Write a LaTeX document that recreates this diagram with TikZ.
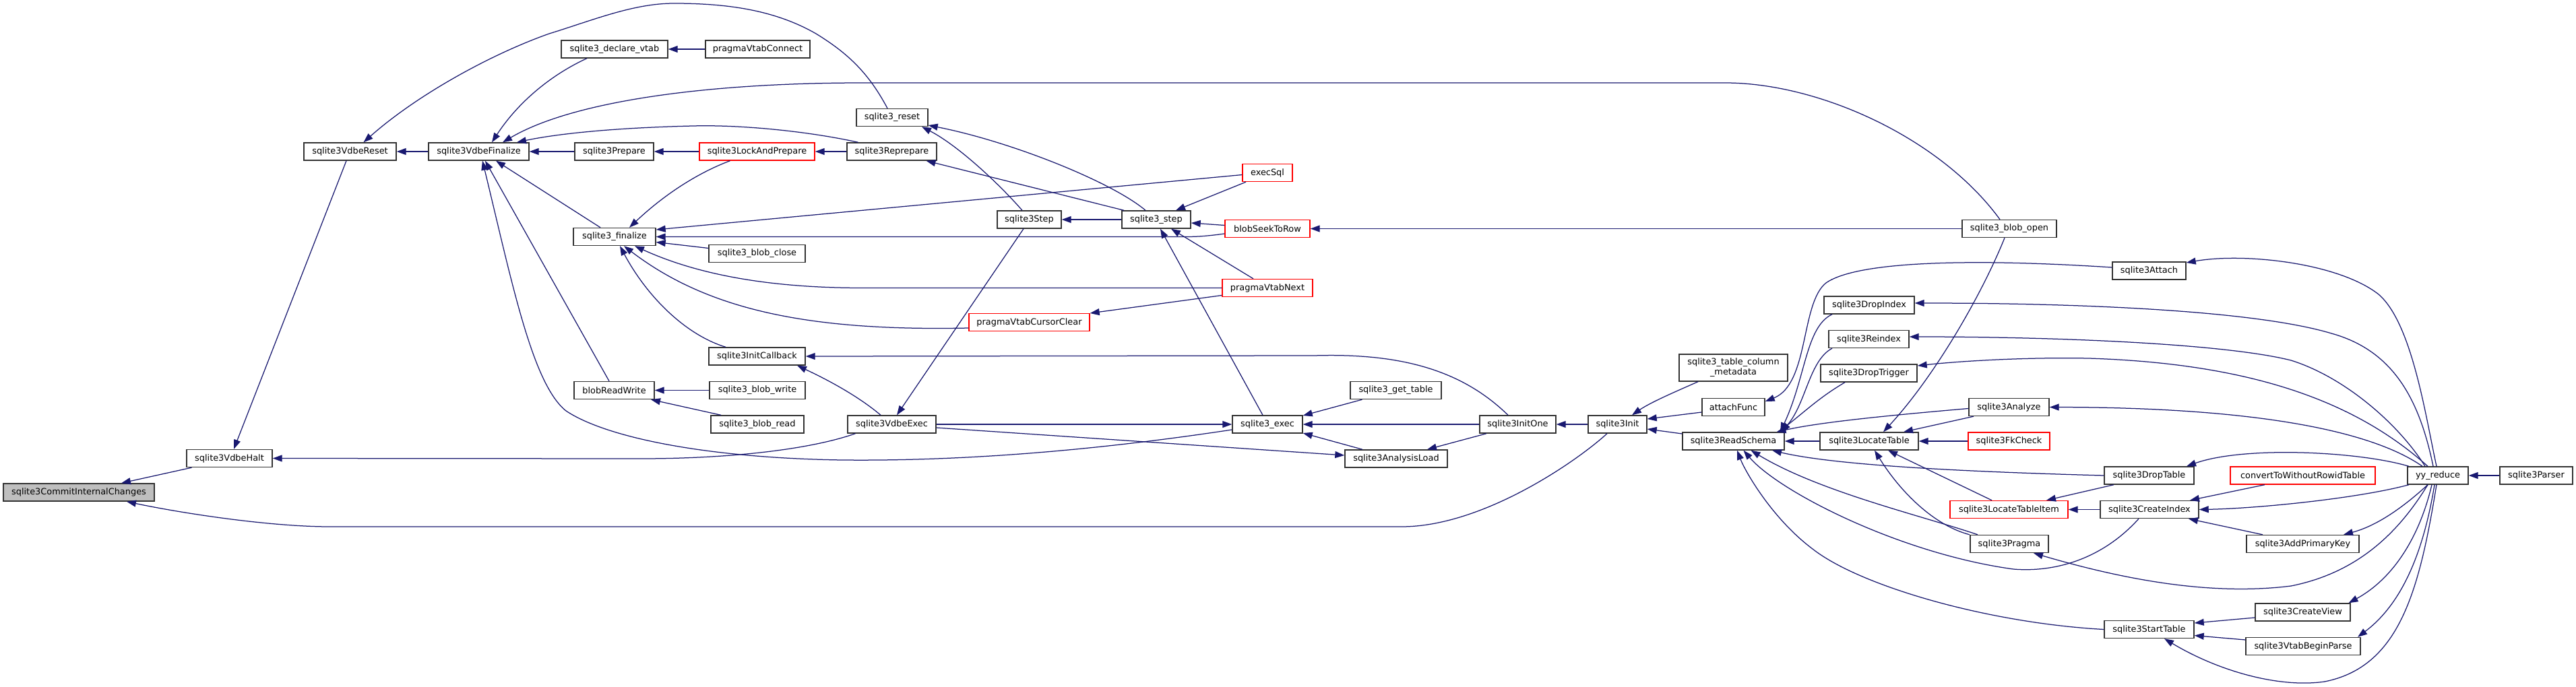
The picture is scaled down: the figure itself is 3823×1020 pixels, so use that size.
\documentclass[tikz,border=0pt]{standalone}
\usepackage{fontspec}
\newfontfamily\djfont{DejaVu Sans}
\usetikzlibrary{arrows.meta}
\definecolor{edgec}{HTML}{191970}
\definecolor{boxc}{HTML}{333333}
\definecolor{redc}{HTML}{FF0000}
\definecolor{rootc}{HTML}{BFBFBF}
\begin{document}
\begin{tikzpicture}[x=1pt,y=-1pt,
 fn/.style={draw=boxc, line width=1.4pt, fill=white, minimum height=26pt, inner sep=0pt, font=\djfont\fontsize{12.9}{15}\selectfont},
 rd/.style={fn, draw=redc},
 e/.style={draw=edgec, line width=1.25pt, -{Triangle[length=14pt,width=10pt]}}
]
\fill[white] (0,0) rectangle (3823,1020);
\useasboundingbox (0,0) rectangle (3823,1020);
% nodes
\node[fn, fill=rootc, minimum width=224pt] (cic) at (117,731) {sqlite3CommitInternalChanges};
\node[fn, minimum width=127pt] (halt) at (340.5,680.5) {sqlite3VdbeHalt};
\node[fn, minimum width=137pt] (vreset) at (519.5,225) {sqlite3VdbeReset};
\node[fn, minimum width=149pt] (vfin) at (710.5,225) {sqlite3VdbeFinalize};
\node[fn, minimum width=158pt] (declare) at (912,73) {sqlite3\_declare\_vtab};
\node[fn, minimum width=155pt] (pvconn) at (1124.5,73) {pragmaVtabConnect};
\node[fn, minimum width=117pt] (prep) at (911.5,225) {sqlite3Prepare};
\node[rd, minimum width=171pt] (lockprep) at (1123.5,225) {sqlite3LockAndPrepare};
\node[fn, minimum width=122pt] (fin) at (912,351.5) {sqlite3\_finalize};
\node[fn, minimum width=143pt] (bclose) at (1123.5,376.5) {sqlite3\_blob\_close};
\node[fn, minimum width=143pt] (initcb) at (1123.5,529) {sqlite3InitCallback};
\node[fn, minimum width=119pt] (brw) at (911.5,579.5) {blobReadWrite};
\node[fn, minimum width=142pt] (bwrite) at (1124,579.5) {sqlite3\_blob\_write};
\node[fn, minimum width=138pt] (bread) at (1124,630) {sqlite3\_blob\_read};
\node[fn, minimum width=106pt] (reset) at (1324,174.5) {sqlite3\_reset};
\node[fn, minimum width=133pt] (reprep) at (1323.5,225) {sqlite3Reprepare};
\node[rd, minimum width=74pt] (execsql) at (1881,256.5) {execSql};
\node[fn, minimum width=95pt] (vstep) at (1527.5,326) {sqlite3Step};
\node[fn, minimum width=102pt] (ustep) at (1716,326) {sqlite3\_step};
\node[rd, minimum width=126pt] (seek) at (1881,339.5) {blobSeekToRow};
\node[rd, minimum width=134pt] (pvnext) at (1881,427.5) {pragmaVtabNext};
\node[rd, minimum width=179pt] (pvclear) at (1527.5,478.5) {pragmaVtabCursorClear};
\node[fn, minimum width=131pt] (vexec) at (1323.5,630) {sqlite3VdbeExec};
\node[fn, minimum width=104pt] (exec) at (1881,630) {sqlite3\_exec};
\node[fn, minimum width=135pt] (gettable) at (2071.5,579.5) {sqlite3\_get\_table};
\node[fn, minimum width=152pt] (aload) at (2072,681) {sqlite3AnalysisLoad};
\node[fn, minimum width=113pt] (initone) at (2252.5,630) {sqlite3InitOne};
\node[fn, minimum width=87pt] (init) at (2400.5,630) {sqlite3Init};
\node[fn, minimum width=161pt, minimum height=40pt, align=center] (meta) at (2572.5,546) {sqlite3\_table\_column\\\_metadata};
\node[fn, minimum width=93pt] (attfn) at (2572.5,604.5) {attachFunc};
\node[fn, minimum width=151pt] (rschema) at (2572.5,655) {sqlite3ReadSchema};
\node[fn, minimum width=140pt] (bopen) at (2982,339.5) {sqlite3\_blob\_open};
\node[fn, minimum width=109pt] (attach) at (3189.5,402) {sqlite3Attach};
\node[fn, minimum width=134pt] (dropidx) at (2774,453) {sqlite3DropIndex};
\node[fn, minimum width=119pt] (reidx) at (2773.5,503.5) {sqlite3Reindex};
\node[fn, minimum width=143pt] (droptrig) at (2773.5,554) {sqlite3DropTrigger};
\node[fn, minimum width=119pt] (analyze) at (2981.5,604.5) {sqlite3Analyze};
\node[fn, minimum width=146pt] (loctab) at (2774,655) {sqlite3LocateTable};
\node[rd, minimum width=121pt] (fkcheck) at (2981.5,655) {sqlite3FkCheck};
\node[fn, minimum width=133pt] (droptab) at (3189.5,706) {sqlite3DropTable};
\node[rd, minimum width=175pt] (locitem) at (2981.5,756.5) {sqlite3LocateTableItem};
\node[fn, minimum width=146pt] (crindex) at (3190,756.5) {sqlite3CreateIndex};
\node[fn, minimum width=116pt] (pragma) at (2982,807.5) {sqlite3Pragma};
\node[fn, minimum width=133pt] (starttab) at (3189.5,934.5) {sqlite3StartTable};
\node[rd, minimum width=215pt] (convert) at (3417.5,706) {convertToWithoutRowidTable};
\node[fn, minimum width=90pt] (yy) at (3618,706) {yy\_reduce};
\node[fn, minimum width=108pt] (parser) at (3764,706) {sqlite3Parser};
\node[fn, minimum width=167pt] (addpk) at (3417.5,807.5) {sqlite3AddPrimaryKey};
\node[fn, minimum width=141pt] (crview) at (3417.5,909) {sqlite3CreateView};
\node[fn, minimum width=170pt] (vtabbp) at (3418,959.5) {sqlite3VtabBeginParse};
% edges
\draw[e] ([xshift=-56pt]halt.south) -- ([xshift=63pt]cic.north);
\draw[e] ([xshift=-15.5pt]init.south) .. controls (2340,685) and (2200,782) .. (2080,782) -- (490,782) .. controls (400,782) and (270,762) .. ([xshift=71pt]cic.south);
\draw[e] ([xshift=-54pt]vexec.south) .. controls (1200,668) and (1080,681) .. (950,681) -- (halt.east);
\draw[e] ([xshift=-5.5pt]vreset.south) -- ([xshift=6.5pt]halt.north);
\draw[e] (vfin.west) -- (vreset.east);
\draw[e] ([xshift=-7pt]reset.north) .. controls (1290,110) and (1260,80) .. (1211,50) .. controls (1150,15) and (1080,5) .. (1000,5) .. controls (940,5) and (880,30) .. (815,50) .. controls (730,80) and (620,140) .. ([xshift=20pt]vreset.north);
\draw[e] ([xshift=-41pt]declare.south) .. controls (820,110) and (770,150) .. ([xshift=19.5pt]vfin.north);
\draw[e] ([xshift=-14pt]bopen.north) .. controls (2880,205) and (2700,123) .. (2560,123) -- (1280,123) .. controls (1050,123) and (850,150) .. ([xshift=35.5pt]vfin.north);
\draw[e] ([xshift=-50pt]reprep.north) .. controls (1200,195) and (1100,185) .. (1028,187) .. controls (900,190) and (820,200) .. ([xshift=56.5pt]vfin.north);
\draw[e] (prep.west) -- (vfin.east);
\draw[e] (lockprep.west) -- (prep.east);
\draw[e] (reprep.west) -- (lockprep.east);
\draw[e] ([xshift=-21pt]fin.north) -- ([xshift=25.5pt]vfin.south);
\draw[e] ([xshift=-7.5pt]brw.north) -- ([xshift=9.5pt]vfin.south);
\draw[e] ([yshift=-8pt]exec.west) .. controls (1650,665) and (1450,685) .. (1250,683) .. controls (1050,680) and (900,650) .. (840,610) .. controls (790,570) and (760,420) .. ([xshift=5.5pt]vfin.south);
\draw[e] (vexec.east) -- (exec.west);
\draw[e] ([yshift=-5pt]vexec.east) -- ([yshift=5pt]aload.west);
\draw[e] ([xshift=-40pt]lockprep.south) .. controls (1040,255) and (990,285) .. ([xshift=22pt]fin.north);
\draw[e] ([yshift=-3pt]execsql.west) -- ([yshift=10.5pt]fin.east);
\draw[e] ([yshift=-7.5pt]seek.west) .. controls (1795,350) and (1780,351.5) .. (1760,351.5) -- (fin.east);
\draw[e] ([yshift=8pt]bclose.west) -- ([yshift=-8pt]fin.east);
\draw[e] (pvnext.west) -- (1280,427.5) .. controls (1150,427.5) and (1040,410) .. ([xshift=30pt]fin.south);
\draw[e] ([yshift=-8.5pt]pvclear.west) .. controls (1200,492) and (1050,460) .. ([xshift=14pt]fin.south);
\draw[e] ([xshift=-46.5pt]initcb.north) .. controls (1017,497) and (960,440) .. ([xshift=8pt]fin.south);
\draw[e] ([xshift=-14.5pt]initone.north) .. controls (2170,550) and (2080,524) .. (1950,528) -- (initcb.east);
\draw[e] ([xshift=-16.5pt]vexec.north) .. controls (1270,585) and (1220,560) .. ([xshift=59.5pt]initcb.south);
\draw[e] (bwrite.west) -- (brw.east);
\draw[e] ([xshift=-54pt]bread.north) -- ([xshift=54.5pt]brw.south);
\draw[e] ([xshift=-10.5pt]vstep.north) .. controls (1480,270) and (1420,215) .. ([xshift=44pt]reset.south);
\draw[e] ([xshift=-16pt]ustep.north) .. controls (1650,270) and (1500,210) .. ([yshift=-11.5pt]reset.east);
\draw[e] ([xshift=-48pt]ustep.north) -- ([xshift=51pt]reprep.south);
\draw[e] (ustep.west) -- (vstep.east);
\draw[e] ([xshift=-32pt]execsql.south) -- ([xshift=29pt]ustep.north);
\draw[e] ([yshift=5pt]seek.west) -- ([yshift=-5pt]ustep.east);
\draw[e] ([xshift=-21pt]pvnext.north) -- ([xshift=22pt]ustep.south);
\draw[e] ([xshift=-7pt]exec.north) -- ([xshift=6pt]ustep.south);
\draw[e] ([xshift=-8.5pt]vstep.south) -- ([xshift=7.5pt]vexec.north);
\draw[e] ([yshift=-11pt]pvnext.west) -- ([yshift=13.5pt]pvclear.east);
\draw[e] (bopen.west) -- (seek.east);
\draw[e] ([xshift=-50pt]gettable.south) -- ([yshift=13pt]exec.east);
\draw[e] (initone.west) -- (exec.east);
\draw[e] ([xshift=-50pt]aload.north) -- ([yshift=-13pt]exec.east);
\draw[e] ([xshift=-46.5pt]initone.south) -- ([xshift=46pt]aload.north);
\draw[e] (init.west) -- (initone.east);
\draw[e] ([xshift=-52.5pt]meta.south) .. controls (2490,580) and (2450,597) .. ([xshift=21.5pt]init.north);
\draw[e] ([yshift=-7.5pt]attfn.west) -- ([yshift=8pt]init.east);
\draw[e] ([yshift=11pt]rschema.west) -- ([yshift=-7pt]init.east);
\draw[e] ([yshift=5pt]attach.west) .. controls (2950,385) and (2760,385) .. (2710,420) .. controls (2672,450) and (2685,570) .. ([yshift=8.5pt]attfn.east);
\draw[e] ([xshift=-55pt]dropidx.south) .. controls (2680,485) and (2680,560) .. ([xshift=69.5pt]rschema.north);
\draw[e] ([xshift=-54.5pt]reidx.south) .. controls (2685,535) and (2680,600) .. ([xshift=71pt]rschema.north);
\draw[e] ([xshift=-35.5pt]droptrig.south) .. controls (2700,590) and (2680,610) .. ([xshift=67pt]rschema.north);
\draw[e] ([yshift=-2pt]analyze.west) .. controls (2800,617) and (2700,627) .. ([xshift=64pt]rschema.north);
\draw[e] (loctab.west) -- (rschema.east);
\draw[e] (droptab.west) .. controls (2900,700) and (2720,690) .. ([xshift=57.5pt]rschema.south);
\draw[e] ([xshift=-47pt]pragma.north) .. controls (2850,765) and (2700,730) .. ([xshift=26pt]rschema.south);
\draw[e] ([xshift=-16pt]crindex.south) .. controls (3120,830) and (3050,850) .. (2988,845) .. controls (2820,822) and (2640,730) .. ([xshift=15pt]rschema.south);
\draw[e] (starttab.west) .. controls (2950,925) and (2760,870) .. (2690,815) .. controls (2630,770) and (2590,700) .. ([xshift=5.5pt]rschema.south);
\draw[e] ([xshift=-7pt]bopen.south) .. controls (2940,440) and (2870,560) .. ([xshift=21pt]loctab.north);
\draw[e] ([xshift=-52.5pt]analyze.south) -- ([xshift=51pt]loctab.north);
\draw[e] (fkcheck.west) -- (loctab.east);
\draw[e] ([xshift=-25.5pt]locitem.north) -- ([xshift=28pt]loctab.south);
\draw[e] ([xshift=-59pt]pragma.north) .. controls (2870,780) and (2820,730) .. ([xshift=8pt]loctab.south);
\draw[e] ([xshift=-52.5pt]droptab.south) -- ([xshift=55.5pt]locitem.north);
\draw[e] (crindex.west) -- (locitem.east);
\draw[e] ([xshift=-23pt]yy.north) .. controls (3520,640) and (3350,605) .. (analyze.east);
\draw[e] ([xshift=-15pt]yy.north) .. controls (3500,600) and (3350,540) .. (3100,532) .. controls (3000,530) and (2900,537) .. ([yshift=11pt]droptrig.east);
\draw[e] ([xshift=-7pt]yy.north) .. controls (3590,590) and (3550,520) .. (3460,495) .. controls (3350,462) and (3100,450) .. ([yshift=3pt]dropidx.east);
\draw[e] ([xshift=-19pt]yy.north) .. controls (3560,630) and (3480,560) .. (3400,535) .. controls (3300,510) and (3050,500) .. ([yshift=3.5pt]reidx.east);
\draw[e] ([xshift=-2pt]yy.north) .. controls (3600,620) and (3580,480) .. (3530,437) .. controls (3470,390) and (3330,375) .. ([yshift=12pt]attach.east);
\draw[e] ([xshift=-43pt]yy.north) .. controls (3500,670) and (3330,662) .. ([xshift=55.5pt]droptab.north);
\draw[e] ([xshift=-56.5pt]convert.south) -- ([xshift=60pt]crindex.north);
\draw[e] ([xshift=-43pt]yy.south) .. controls (3500,740) and (3350,755) .. (crindex.east);
\draw[e] ([xshift=-59.5pt]addpk.north) -- ([xshift=58pt]crindex.south);
\draw[e] ([xshift=-15pt]yy.south) .. controls (3570,750) and (3530,780) .. ([xshift=60.5pt]addpk.north);
\draw[e] ([xshift=-15pt]yy.south) .. controls (3560,790) and (3500,850) .. (3400,870) .. controls (3280,885) and (3150,860) .. ([xshift=36pt]pragma.south);
\draw[e] ([xshift=-9pt]yy.south) .. controls (3590,800) and (3550,860) .. ([xshift=68pt]crview.north);
\draw[e] ([xshift=-5pt]yy.south) .. controls (3595,830) and (3560,900) .. ([xshift=81pt]vtabbp.north);
\draw[e] ([xshift=-2pt]yy.south) .. controls (3590,880) and (3560,990) .. (3450,1012) .. controls (3380,1022) and (3290,995) .. ([xshift=22.5pt]starttab.south);
\draw[e] ([yshift=-8pt]crview.west) -- ([yshift=9.5pt]starttab.east);
\draw[e] ([yshift=9.5pt]vtabbp.west) -- ([yshift=-9pt]starttab.east);
\draw[e] (parser.west) -- (yy.east);
\draw[e] (pvconn.west) -- (declare.east);
\end{tikzpicture}
\end{document}
